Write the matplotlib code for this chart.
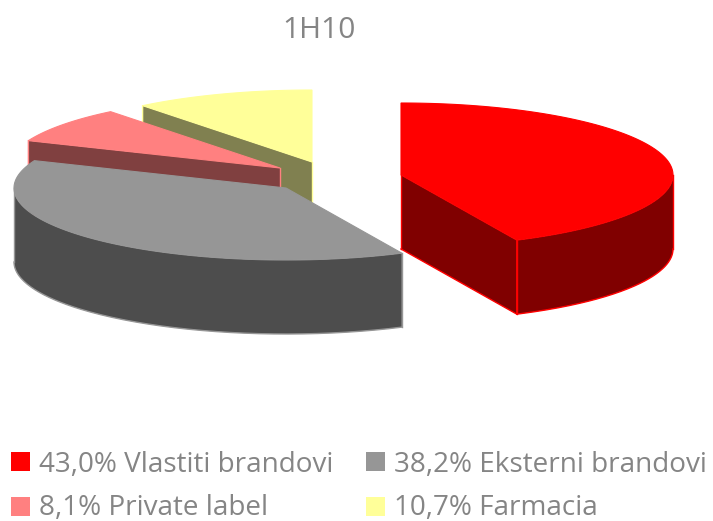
import numpy as np
import matplotlib
matplotlib.use("Agg")
import matplotlib.pyplot as plt

title = "1H10"
names = ["Vlastiti brandovi", "Eksterni brandovi", "Private label", "Farmacia"]
shares = [43.0, 38.2, 8.1, 10.7]

top_colors = ["#ff0000", "#969696", "#ff8080", "#ffff99"]
wall_colors = ["#800000", "#4d4d4d", "#804040", "#808050"]

# pixel layout of the exploded pie
apex_x = [401, 286, 280, 312]
apex_y = [175, 188, 168, 162]
rx = 272
ry = 72
depth = 74

plt.rcParams["font.family"] = ["Open Sans", "DejaVu Sans"]
fig = plt.figure(figsize=(7.13, 5.21), dpi=100)
ax = fig.add_axes([0, 0, 1, 1])
ax.set_xlim(0, 713)
ax.set_ylim(521, 0)
ax.axis("off")

edges = np.cumsum([0] + shares) / sum(shares) * 2 * np.pi


def point(i, t):
	return apex_x[i] + rx * np.sin(t), apex_y[i] - ry * np.cos(t)


def side_face(i, t, z):
	# flat cut face from the apex out to the rim at angle t
	px, py = point(i, t)
	x0, y0 = apex_x[i], apex_y[i]
	ax.fill([x0, px, px, x0], [y0, py, py + depth, y0 + depth], color=wall_colors[i], lw=0, zorder=z)
	ax.plot([x0, px, px], [y0 + depth, py + depth, py], color=top_colors[i], lw=1, zorder=z + 0.1)
	ax.plot([x0, x0], [y0, y0 + depth], color=top_colors[i], lw=1, zorder=z + 0.1)


# back slices first, so the order is farmacia, private label, grey, red
for i in [3, 2, 1, 0]:
	z = 10 - i * 2
	# outer rim wall, only the part that faces the viewer
	lo = max(edges[i], np.pi / 2)
	hi = min(edges[i + 1], 3 * np.pi / 2)
	if lo < hi:
		t = np.linspace(lo, hi, 150)
		px, py = point(i, t)
		ax.fill(np.r_[px, px[::-1]], np.r_[py, py[::-1] + depth], color=wall_colors[i], lw=0, zorder=z)
		ax.plot(px, py + depth, color=top_colors[i], lw=1, zorder=z + 0.1)
		ax.plot([px[0], px[0]], [py[0], py[0] + depth], color=top_colors[i], lw=1, zorder=z + 0.1)
		ax.plot([px[-1], px[-1]], [py[-1], py[-1] + depth], color=top_colors[i], lw=1, zorder=z + 0.1)

	# cut faces that can be seen
	if i == 0:
		side_face(i, edges[1], z)
	if i in (2, 3):
		side_face(i, edges[i], z)

	# top face
	t = np.linspace(edges[i], edges[i + 1], 150)
	px, py = point(i, t)
	ax.fill(np.r_[apex_x[i], px], np.r_[apex_y[i], py], color=top_colors[i], lw=0.8, zorder=z + 0.5)

ax.text(319, 38, title, color="#858585", fontsize=21.5, ha="center", va="baseline")

# legend, two rows and two columns
leg_x = [11, 366]
leg_y = [452, 497]
for i in range(4):
	px = leg_x[i % 2]
	py = leg_y[i // 2]
	ax.add_patch(plt.Rectangle((px, py), 19, 19, color=top_colors[i], lw=0, zorder=20))
	label = f"{shares[i]:.1f}%".replace(".", ",") + " " + names[i]
	ax.text(px + 28, py + 18 + (i < 2) * 2, label, color="#858585", fontsize=20.1, ha="left", va="baseline")

fig.savefig("out.png", dpi=100)
